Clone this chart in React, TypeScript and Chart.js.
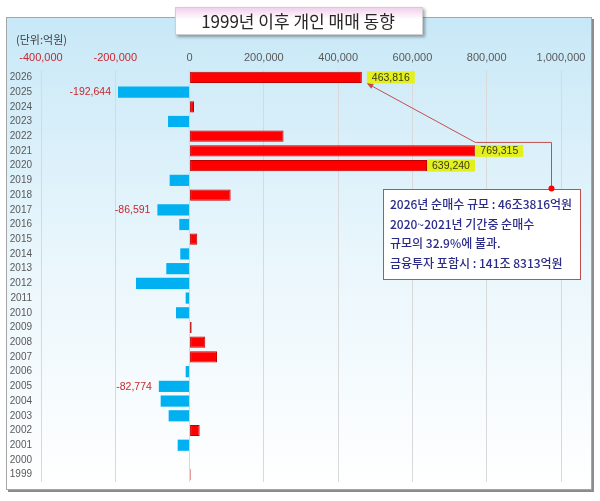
import { useEffect, useRef } from "react"
import { Chart, registerables } from "chart.js"

Chart.register(...registerables)

// 연도 (위에서 아래로)
const years = [
  "2026", "2025", "2024", "2023", "2022", "2021", "2020", "2019", "2018", "2017",
  "2016", "2015", "2014", "2013", "2012", "2011", "2010", "2009", "2008", "2007",
  "2006", "2005", "2004", "2003", "2002", "2001", "2000", "1999",
]

// 개인 순매수 (억원)
const netBuy = [
  463816, -192644, 12000, -58000, 253000, 769315, 639240, -53600, 110600, -86591,
  -27700, 20700, -25000, -62700, -144300, -10500, -36600, 5600, 42300, 73800,
  -10500, -82774, -77800, -56300, 27200, -32000, 1000, 3000,
]

const xTicks = [-400000, -200000, 0, 200000, 400000, 600000, 800000, 1000000]

const highlightYears = ["2026", "2021", "2020"]
const negLabelYears = ["2025", "2017", "2005"]

const titleText = "1999년 이후 개인 매매 동향"
const unitText = "(단위:억원)"
const noteLines = [
  "2026년 순매수 규모 : 46조3816억원",
  "2020~2021년 기간중 순매수",
  "규모의 32.9%에 불과.",
  "금융투자 포함시 : 141조 8313억원",
]

const KR = '"Noto Sans CJK KR", sans-serif'
const NUM = '"Liberation Sans", "Noto Sans CJK KR", sans-serif'

const fmt = (v: number) => v.toLocaleString("en-US")

const decorPlugin = {
  id: "decor",
  beforeDraw(chart: Chart) {
    const ctx = chart.ctx
    ctx.save()
    // 외곽 그림자 + 배경
    ctx.fillStyle = "#8c8c8c"
    ctx.fillRect(8, 19, 586, 473)
    const g = ctx.createLinearGradient(0, 17, 0, 490)
    g.addColorStop(0, "#C8E8F7")
    g.addColorStop(0.5, "#E9F6FC")
    g.addColorStop(1, "#FFFFFF")
    ctx.fillStyle = g
    ctx.fillRect(6, 17, 586, 473)
    ctx.strokeStyle = "#A6A6A6"
    ctx.lineWidth = 1
    ctx.strokeRect(6.5, 17.5, 585, 472)
    ctx.restore()
  },
  afterDatasetsDraw(chart: Chart) {
    const ctx = chart.ctx
    const meta = chart.getDatasetMeta(0)
    ctx.save()
    ctx.font = `10.5px ${NUM}`
    ctx.textBaseline = "middle"
    let arrowTip = { x: 0, y: 0 }
    let lineStart = { x: 0, y: 0 }
    meta.data.forEach((el: any, i: number) => {
      const yr = years[i]
      const { x, y, base } = el.getProps(["x", "y", "base"], true)
      const txt = fmt(netBuy[i])
      if (highlightYears.includes(yr)) {
        const gap = yr === "2026" ? 5 : 0
        const w = ctx.measureText(txt).width + 10
        const bx = Math.max(x, base) + gap
        ctx.fillStyle = "#E3F01E"
        ctx.fillRect(bx, y - 6, w, 12)
        ctx.fillStyle = "#3a3a1a"
        ctx.textAlign = "left"
        ctx.fillText(txt, bx + 5, y + 0.5)
        if (yr === "2026") arrowTip = { x: bx, y: y + 6 }
        if (yr === "2021") lineStart = { x: Math.max(x, base), y: y - 8.5 }
      } else if (negLabelYears.includes(yr)) {
        ctx.fillStyle = "#C8282E"
        ctx.textAlign = "right"
        ctx.fillText(txt, Math.min(x, base) - 7, y + 0.5)
      }
    })

    // 연결선
    const dot = { x: 551.5, y: 188.5 }
    ctx.strokeStyle = "#C0504D"
    ctx.lineWidth = 1
    ctx.beginPath()
    ctx.moveTo(dot.x, dot.y)
    ctx.lineTo(dot.x, lineStart.y)
    ctx.lineTo(lineStart.x, lineStart.y)
    ctx.lineTo(arrowTip.x + 1, arrowTip.y + 0.5)
    ctx.stroke()
    const ang = Math.atan2(arrowTip.y - lineStart.y, arrowTip.x - lineStart.x)
    ctx.fillStyle = "#C0504D"
    ctx.beginPath()
    ctx.moveTo(arrowTip.x, arrowTip.y)
    ctx.lineTo(arrowTip.x - 7 * Math.cos(ang - 0.4), arrowTip.y - 7 * Math.sin(ang - 0.4))
    ctx.lineTo(arrowTip.x - 7 * Math.cos(ang + 0.4), arrowTip.y - 7 * Math.sin(ang + 0.4))
    ctx.closePath()
    ctx.fill()

    // 설명 상자
    ctx.fillStyle = "#FFFFFF"
    ctx.fillRect(383.5, 189.5, 197, 90)
    ctx.strokeStyle = "#C0504D"
    ctx.strokeRect(383.5, 189.5, 197, 90)
    ctx.fillStyle = "#FF0000"
    ctx.beginPath()
    ctx.arc(dot.x, dot.y, 3, 0, Math.PI * 2)
    ctx.fill()
    ctx.fillStyle = "#2B2B8A"
    ctx.font = `500 12px ${KR}`
    ctx.textAlign = "left"
    noteLines.forEach((line, k) => {
      ctx.fillText(line, 390, 204.5 + k * 19.7)
    })
    ctx.restore()
  },
  afterDraw(chart: Chart) {
    const ctx = chart.ctx
    ctx.save()
    // 제목 상자
    ctx.shadowColor = "rgba(0,0,0,0.35)"
    ctx.shadowBlur = 3
    ctx.shadowOffsetX = 2
    ctx.shadowOffsetY = 2
    const tg = ctx.createLinearGradient(0, 7, 0, 35)
    tg.addColorStop(0, "#F1CDEA")
    tg.addColorStop(0.45, "#FFFFFF")
    tg.addColorStop(1, "#FFFFFF")
    ctx.fillStyle = tg
    ctx.fillRect(175, 7, 248, 28)
    ctx.shadowColor = "transparent"
    ctx.strokeStyle = "#CFCFCF"
    ctx.strokeRect(175.5, 7.5, 247, 27)
    ctx.fillStyle = "#262626"
    ctx.font = `17px ${KR}`
    ctx.textAlign = "center"
    ctx.textBaseline = "middle"
    ctx.fillText(titleText, 298, 21.5)
    // 단위
    ctx.font = `11px ${KR}`
    ctx.fillStyle = "#404040"
    ctx.textAlign = "left"
    ctx.fillText(unitText, 16, 40)
    ctx.restore()
  },
}

function NetBuyChart() {
  const chartRef = useRef<HTMLCanvasElement>(null)
  const chartInstance = useRef<Chart | null>(null)

  useEffect(() => {
    document.body.style.margin = "0"
    if (!chartRef.current) return
    if (chartInstance.current) chartInstance.current.destroy()
    const ctx = chartRef.current.getContext("2d")
    if (!ctx) return

    chartInstance.current = new Chart(ctx, {
      type: "bar",
      data: {
        labels: years,
        datasets: [
          {
            data: netBuy,
            backgroundColor: netBuy.map((v) => (v >= 0 ? "#FF0000" : "#00B0F0")),
            borderColor: netBuy.map((v) => (v >= 0 ? "#C00000" : "#00B0F0")),
            borderWidth: netBuy.map((v) => (v >= 0 ? 1 : 0)),
            borderSkipped: false,
            barPercentage: 0.76,
            categoryPercentage: 1,
          },
        ],
      },
      options: {
        indexAxis: "y",
        responsive: false,
        animation: false,
        layout: { padding: { left: 6, right: 39, top: 40, bottom: 19 } },
        scales: {
          x: {
            position: "top",
            min: -400000,
            max: 1000000,
            afterBuildTicks: (scale: any) => {
              scale.ticks = xTicks.map((v) => ({ value: v }))
            },
            afterFit: (scale: any) => {
              scale.height = 30
            },
            grid: { color: "#D9D9D9", drawTicks: false },
            border: { display: false },
            ticks: {
              padding: 5,
              font: { size: 11, family: NUM },
              color: (c: any) => (c.tick && c.tick.value < 0 ? "#C8282E" : "#595959"),
              callback: (v: any) => fmt(Number(v)),
            },
          },
          y: {
            afterFit: (scale: any) => {
              scale.width = 35
            },
            grid: { display: false, drawTicks: false },
            border: { display: false },
            ticks: {
              autoSkip: false,
              padding: 9,
              font: { size: 10, family: NUM },
              color: "#595959",
            },
          },
        },
        plugins: {
          legend: { display: false },
          tooltip: { enabled: false },
        },
      },
      plugins: [decorPlugin],
    })

    return () => {
      if (chartInstance.current) {
        chartInstance.current.destroy()
        chartInstance.current = null
      }
    }
  }, [])

  return (
    <div style={{ width: 600, height: 501 }}>
      <canvas ref={chartRef} width={600} height={501} />
    </div>
  )
}

export default function App() {
  return <NetBuyChart />
}
